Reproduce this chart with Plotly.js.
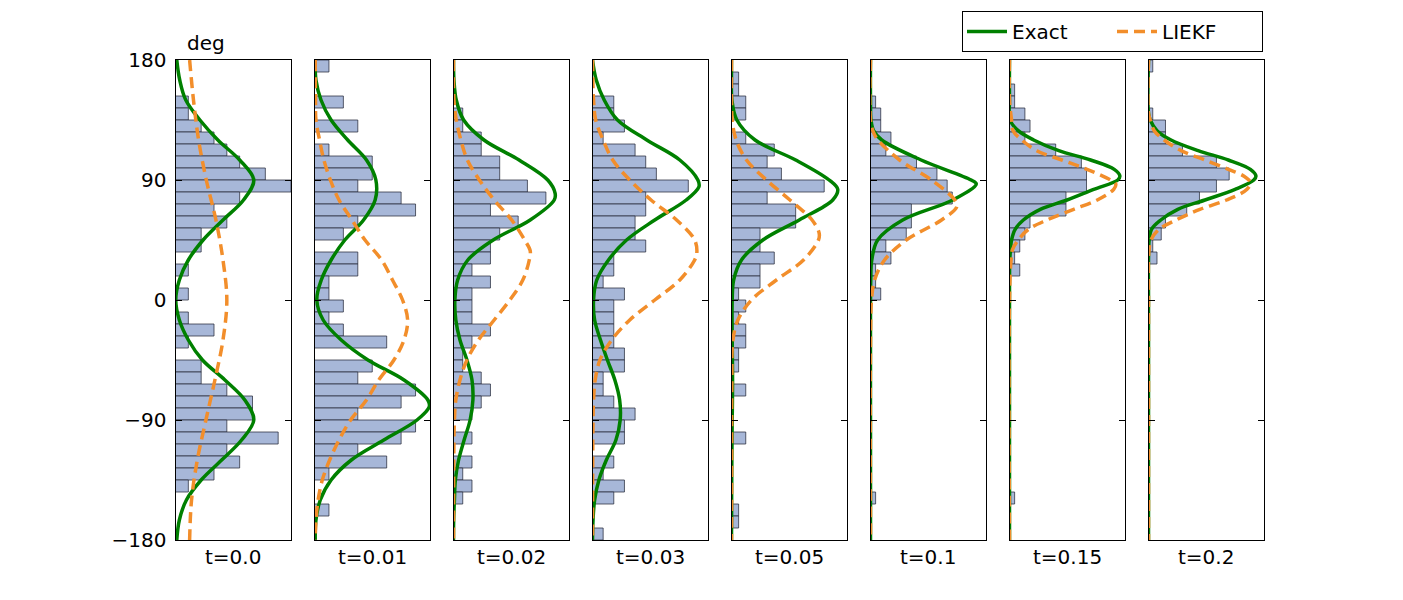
<!DOCTYPE html>
<html>
<head>
<meta charset="utf-8">
<script src="https://cdn.plot.ly/plotly-3.0.1.min.js"></script>
<style>
  html, body { margin: 0; padding: 0; background: #fff; }
  #chart { width: 1403px; height: 600px; }
</style>
</head>
<body>
<div id="chart"></div>
<script>
// Panel labels (time steps)
var times = ["t=0.0", "t=0.01", "t=0.02", "t=0.03", "t=0.05", "t=0.1", "t=0.15", "t=0.2"];

// Histogram counts per panel, 40 bins of 9 deg, from +180 down to -180
var counts = [
    [0,0,0,1,1,2,3,4,5,7,9,5,3,4,2,2,0,1,0,1,0,1,3,1,0,2,2,4,6,6,4,8,4,5,3,1,0,0,0,0],
    [1,0,0,2,0,3,0,1,4,4,3,6,7,3,2,0,3,3,1,1,2,1,2,5,0,4,3,7,6,3,7,6,3,5,1,0,0,1,0,0],
    [0,0,0,0,1,1,3,3,5,5,8,10,4,7,5,4,4,2,4,2,2,2,4,2,1,1,3,4,3,2,0,2,0,2,1,2,1,0,0,0],
    [0,0,0,2,2,3,1,4,5,6,9,5,5,4,4,5,2,2,1,3,2,2,2,2,3,3,1,1,2,4,3,3,0,2,1,3,2,0,0,1],
    [0,1,1,2,2,0,2,6,5,7,13,5,9,9,4,4,6,4,4,1,2,1,2,2,1,1,0,2,0,0,0,2,0,0,0,0,0,1,1,0],
    [0,0,0,1,2,2,4,3,9,13,15,16,8,8,7,3,4,1,1,2,0,0,0,0,0,0,0,0,0,0,0,0,0,0,0,0,1,0,0,0],
    [0,0,1,1,3,4,3,9,14,15,15,11,11,4,3,2,1,2,0,0,0,0,0,0,0,0,0,0,0,0,0,0,0,0,0,0,1,0,0,0],
    [1,0,0,0,1,4,4,8,16,19,16,12,9,4,3,1,2,0,0,0,0,0,0,0,0,0,0,0,0,0,0,0,0,0,0,0,0,0,0,0]
];

// Upper x limit of each panel (same units as counts)
var xMax = [9, 8, 12.5, 10.85, 16.2, 22.6, 22.5, 27.2];

// Exact density (green): angles and values
var exactDeg = [
    [180,165,150,135,120,105,90,75,60,45,30,15,0,-15,-30,-45,-60,-75,-90,-105,-120,-135,-150,-165,-180],
    [180,165,150,135,120,105,90,75,60,45,30,15,0,-15,-30,-45,-60,-75,-80,-90,-105,-120,-135,-150,-165,-180],
    [180,165,150,135,120,105,90,80,75,60,45,30,15,0,-15,-30,-45,-60,-75,-90,-105,-120,-135,-150,-165,-180],
    [180,165,150,135,120,105,90,85,75,60,45,30,15,0,-15,-30,-45,-60,-75,-90,-105,-120,-135,-150,-165,-180],
    [180,165,150,135,120,105,90,83,75,60,45,30,15,0,-30,-60,-90,-120,-150,-180],
    [180,150,135,127,120,105,90,87,75,60,45,30,15,0,-90,-180],
    [180,150,135,127,120,112,105,98,93,90,83,75,68,60,53,45,38,30,0,-180],
    [180,140,135,127,120,112,105,98,93,90,83,75,68,60,53,45,30,0,-180]
];
var exactVal = [
    [0.1,0.33,0.8,1.9,3.3,5.0,6.1,5.3,3.7,2.15,1.0,0.3,0.02,0.3,1.0,2.1,3.85,5.4,6.1,5.15,3.6,2.0,0.85,0.3,0.1],
    [0.05,0.1,0.45,1.15,2.3,3.6,4.25,4.2,3.4,2.1,1.15,0.47,0.16,0.6,1.85,3.7,6.2,7.85,7.95,7.1,4.8,2.55,1.15,0.4,0.1,0.05],
    [0,0.05,0.3,1.1,3.3,7.1,10.2,11.0,10.9,8.3,4.3,1.55,0.45,0.15,0.25,0.7,1.45,2.0,2.1,1.8,1.15,0.55,0.2,0.1,0.02,0],
    [0,0.35,1.1,2.35,5.1,8.2,9.9,10.0,8.8,5.85,3.2,1.5,0.4,0.1,0.2,0.75,1.4,2.1,2.55,2.6,2.2,1.3,0.6,0.2,0.05,0],
    [0,0,0.05,0.75,3.3,9.0,13.7,14.9,14.2,9.5,4.4,1.4,0.3,0.1,0.1,0.15,0.1,0.05,0.02,0],
    [0,0,0.1,0.6,2.2,9.9,19.7,20.7,16.1,6.3,1.4,0.25,0.05,0,0,0],
    [0,0,0.1,1.7,4.7,9.6,15.8,20.4,21.5,21.1,16.4,11.2,6.0,2.7,1.1,0.4,0.2,0.05,0,0],
    [0,0,0.4,2.0,5.3,11.7,18.8,24.0,25.3,24.8,20.4,13.3,6.9,2.9,0.7,0.15,0,0,0]
];

// LIEKF density (orange dashed)
var liekfDeg = [
    [180,150,120,90,60,30,0,-30,-60,-90,-120,-150,-180],
    [180,150,135,120,105,90,75,60,45,30,15,0,-15,-30,-45,-60,-75,-90,-105,-120,-135,-150,-165,-180],
    [180,150,135,120,105,90,75,60,45,37,30,15,0,-15,-30,-45,-60,-75,-90,-120,-180],
    [180,150,135,120,105,90,75,60,45,35,30,15,0,-15,-30,-45,-60,-75,-90,-120,-180],
    [180,150,135,120,105,90,75,60,50,45,30,15,0,-15,-30,-60,-120,-180],
    [180,135,127,120,105,90,75,70,60,45,30,15,0,-30,-180],
    [180,150,135,127,120,112,105,98,90,87,83,75,68,60,53,45,38,30,0,-180],
    [180,140,135,127,120,112,105,98,93,88,83,75,68,60,53,45,38,30,0,-180]
];
var liekfVal = [
    [1.1,1.4,1.8,2.4,3.15,3.7,4.0,3.7,3.07,2.37,1.7,1.25,1.1],
    [0.05,0.07,0.1,0.35,0.65,1.1,1.7,2.6,3.5,4.65,5.4,6.1,6.45,6.2,5.5,4.45,3.6,2.5,1.7,1.05,0.54,0.25,0.1,0.05],
    [0,0.05,0.3,0.8,1.5,2.8,4.4,6.3,7.7,8.3,8.2,7.5,6.1,4.4,2.7,1.45,0.7,0.25,0.1,0.03,0],
    [0,0.1,0.3,1.0,1.9,3.5,5.5,7.9,9.6,9.8,9.6,8.2,5.85,3.5,1.8,0.7,0.25,0.1,0.05,0.02,0],
    [0,0,0.1,0.65,2.1,4.9,8.2,11.3,12.3,12.2,10.1,6.3,2.8,0.9,0.2,0.05,0.02,0],
    [0,0,0.45,1.45,5.7,11.9,16.5,16.9,13.9,7.0,2.75,0.8,0.2,0,0],
    [0,0,0.4,0.7,2.4,5.3,10.2,15.1,19.7,20.7,20.3,17.1,12.5,7.3,3.7,1.7,0.6,0.3,0,0],
    [0,0,0.4,1.35,3.7,7.7,13.3,18.8,22.4,24.0,23.2,18.4,12.1,6.5,2.5,0.55,0.15,0,0,0]
];

var yTicks = [-180, -90, 0, 90, 180];
var yTickText = ["\u2212180", "\u221290", "0", "90", "180"];

// Bin geometry
var binWidth = 9;
var binCenters = [];
for (var b = 0; b < 40; b++) {
    binCenters.push(180 - binWidth * (b + 0.5));
}

// Page geometry (pixels)
var W = 1403, H = 600;
var panelLeft = 175.5, panelStep = 139, panelWidth = 115.5;

var font = { family: "DejaVu Sans, sans-serif", size: 20, color: "#000" };
var traces = [];
var layout = {
    width: W,
    height: H,
    margin: { l: 0, r: 0, t: 0, b: 0 },
    paper_bgcolor: "#fff",
    plot_bgcolor: "#fff",
    font: font,
    bargap: 0,
    barmode: "overlay",
    showlegend: true,
    legend: {
        orientation: "h",
        x: 962 / W,
        y: 1 - 11 / H,
        xanchor: "left",
        yanchor: "top",
        bordercolor: "#000",
        borderwidth: 1,
        bgcolor: "#fff",
        font: { family: font.family, size: 20 },
        itemwidth: 40,
        entrywidth: 95,
        entrywidthmode: "pixels"
    },
    annotations: [{
        text: "deg",
        xref: "paper", yref: "paper",
        x: 206 / W, y: 1 - 43 / H,
        xanchor: "center", yanchor: "middle",
        showarrow: false,
        font: { family: font.family, size: 20 }
    }]
};

times.forEach(function (label, i) {
    var n = i === 0 ? "" : String(i + 1);
    var x0 = (panelLeft + panelStep * i) / W;
    var x1 = (panelLeft + panelStep * i + panelWidth) / W;

    // Histogram bars
    traces.push({
        type: "bar",
        orientation: "h",
        x: counts[i],
        y: binCenters,
        width: binWidth,
        xaxis: "x" + n,
        yaxis: "y" + n,
        marker: {
            color: "rgb(167,183,216)",
            line: { color: "rgba(40,44,60,0.75)", width: 1 }
        },
        showlegend: false,
        hoverinfo: "skip"
    });

    // Exact density
    traces.push({
        type: "scatter",
        mode: "lines",
        x: exactVal[i],
        y: exactDeg[i],
        xaxis: "x" + n,
        yaxis: "y" + n,
        name: "Exact",
        legendgroup: "exact",
        showlegend: i === 0,
        line: { color: "#008000", width: 3.5, shape: "spline", smoothing: 1 }
    });

    // LIEKF density
    traces.push({
        type: "scatter",
        mode: "lines",
        x: liekfVal[i],
        y: liekfDeg[i],
        xaxis: "x" + n,
        yaxis: "y" + n,
        name: "LIEKF",
        legendgroup: "liekf",
        showlegend: i === 0,
        line: { color: "#f28e2b", width: 3.5, dash: "11px,6px", shape: "spline", smoothing: 1 }
    });

    layout["xaxis" + n] = {
        domain: [x0, x1],
        anchor: "y" + n,
        range: [0, xMax[i]],
        showgrid: false,
        zeroline: false,
        showticklabels: false,
        ticks: "",
        showline: true,
        linecolor: "#000",
        linewidth: 1,
        mirror: true,
        fixedrange: true
    };

    layout["yaxis" + n] = {
        domain: [0.1, 0.9],
        anchor: "x" + n,
        range: [-180, 180],
        tickmode: "array",
        tickvals: yTicks,
        ticktext: yTickText,
        showticklabels: i === 0,
        ticks: "inside",
        ticklen: 6,
        tickwidth: 1,
        tickcolor: "#000",
        ticklabelstandoff: 4,
        showgrid: false,
        zeroline: false,
        showline: true,
        linecolor: "#000",
        linewidth: 1,
        mirror: "ticks",
        tickfont: { family: font.family, size: 20 },
        fixedrange: true
    };

    // Time label under each panel
    layout.annotations.push({
        text: label,
        xref: "paper", yref: "paper",
        x: (x0 + x1) / 2, y: 1 - 557 / H,
        xanchor: "center", yanchor: "middle",
        showarrow: false,
        font: { family: font.family, size: 20 }
    });
});

Plotly.newPlot("chart", traces, layout, { displayModeBar: false, staticPlot: true });
</script>
</body>
</html>
